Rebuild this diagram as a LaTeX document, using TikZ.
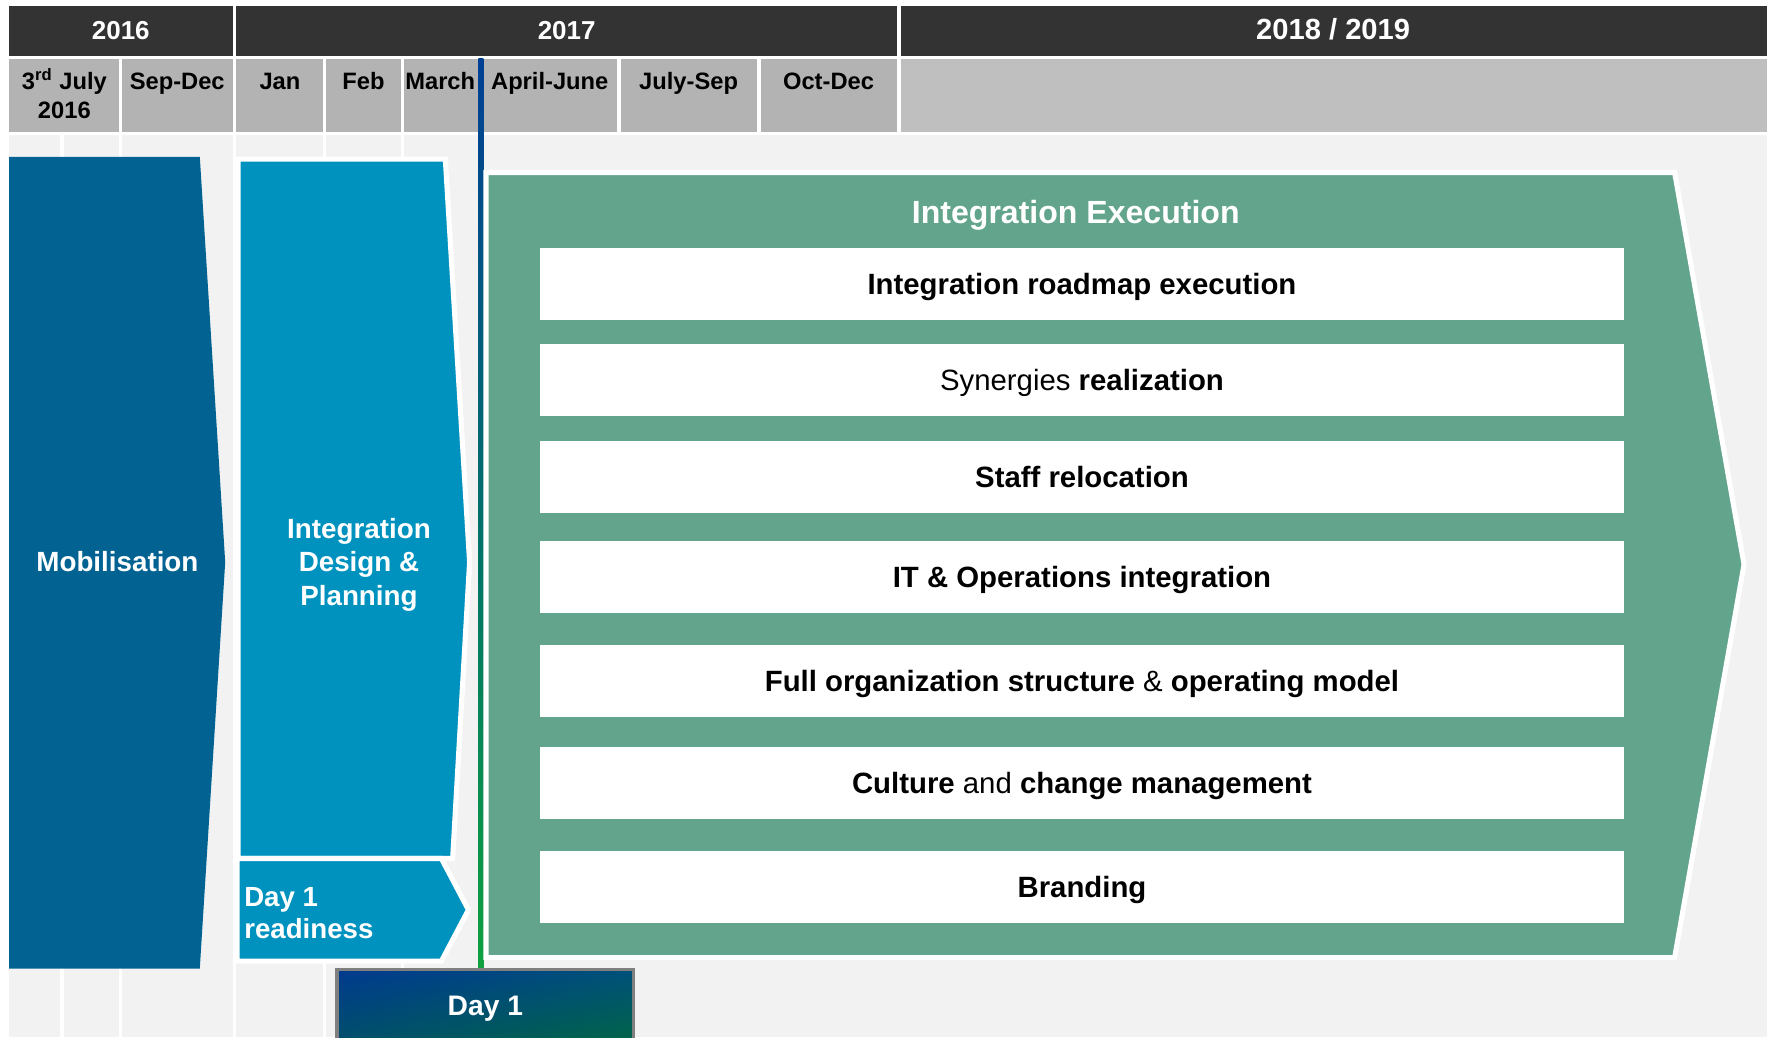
\documentclass[tikz,border=0pt]{standalone}
\usepackage{fontspec}
\setmainfont{Liberation Sans}
\usetikzlibrary{shadings}
\definecolor{hdrdark}{HTML}{333333}
\definecolor{hdrgray}{HTML}{B3B3B3}
\definecolor{hdrlight}{HTML}{BFBFBF}
\definecolor{bggray}{HTML}{F2F2F2}
\definecolor{mobblue}{HTML}{026392}
\definecolor{designblue}{HTML}{0092BF}
\definecolor{execgreen}{HTML}{62A58C}
\definecolor{linetop}{HTML}{003F94}
\definecolor{linemid}{HTML}{006F6C}
\definecolor{linebot}{HTML}{10A040}
\definecolor{dayUL}{HTML}{003A8E}
\definecolor{dayUR}{HTML}{00507A}
\definecolor{dayLL}{HTML}{005562}
\definecolor{dayLR}{HTML}{006A3A}
\definecolor{dayborder}{HTML}{7F7F7F}
\begin{document}
\begin{tikzpicture}[x=0.5pt,y=-0.5pt,
  lbl/.style={inner sep=0pt, text height=0.72em, text depth=0pt, align=center},
  yearlbl/.style={lbl, text=white, font=\bfseries\fontsize{11.5}{13.8}\selectfont},
  monthlbl/.style={lbl, text=black, font=\bfseries\fontsize{10.5}{12.5}\selectfont},
  phaselbl/.style={lbl, text=white, font=\bfseries\fontsize{12.3}{15}\selectfont},
  taskbox/.style={fill=white, minimum width=480.5pt, minimum height=31.75pt,
    inner sep=0pt, text height=0.95em, text depth=0pt,
    font=\fontsize{13}{15.6}\selectfont},
  phaseshape/.style={draw=white, line width=2.25pt, line join=miter},
  gridline/.style={draw=white, line width=1.5pt},
]
\useasboundingbox (0,0) rectangle (1568,919);
\clip (0,0) rectangle (1568,919);
\fill[white] (0,0) rectangle (1568,919);

% year row
\fill[hdrdark] (8,5) rectangle (206,50);
\fill[hdrdark] (209,5) rectangle (795,50);
\fill[hdrdark] (798,5) rectangle (1565,50);
\node[yearlbl] (y2016) at (107,27.5) {2016};
\node[yearlbl] (y2017) at (502,27.5) {2017};
\node[yearlbl, font=\bfseries\fontsize{12.9}{15}\selectfont] (y2018) at (1181,28) {2018 / 2019};

% period row (multi-line labels are placed by their last line)
\fill[hdrgray] (8,52) rectangle (105,117);
\fill[hdrgray] (108,52) rectangle (206,117);
\fill[hdrgray] (209,52) rectangle (286,117);
\fill[hdrgray] (289,52) rectangle (355,117);
\fill[hdrgray] (358,52) rectangle (424,117);
\fill[hdrgray] (427,52) rectangle (547,117);
\fill[hdrgray] (550,52) rectangle (671,117);
\fill[hdrgray] (674,52) rectangle (795,117);
\fill[hdrlight] (798,52) rectangle (1565,117);
\node[monthlbl] (pjul) at (57,97.5) {3\textsuperscript{rd} July\\2016};
\node[monthlbl] (psep) at (157,72.5) {Sep-Dec};
\node[monthlbl] (pjan) at (248,72.5) {Jan};
\node[monthlbl] (pfeb) at (322,72.5) {Feb};
\node[monthlbl] (pmar) at (390,72.5) {March};
\node[monthlbl] (papr) at (487,72.5) {April-June};
\node[monthlbl] (pjsp) at (610,72.5) {July-Sep};
\node[monthlbl] (poct) at (734,72.5) {Oct-Dec};

% timeline area with column guides
\fill[bggray] (8,120) rectangle (1565,919);
\foreach \gx in {55,106.5,207.5,287.5,356.5}
  \draw[gridline] (\gx,120) -- (\gx,919);

% phase 1
\fill[mobblue] (8,139) -- (177,139) -- (199.5,498) -- (177,858) -- (8,858) -- cycle;
\node[phaselbl] (mob) at (104,499) {Mobilisation};

% phase 2
\filldraw[phaseshape, fill=designblue] (211,141) -- (394.5,141) -- (416,498) -- (401,760.5) -- (211,760.5) -- cycle;
\node[phaselbl] (design) at (318,529.5) {Integration\\Design \&\\Planning};
\filldraw[phaseshape, fill=designblue] (210,760.5) -- (391,760.5) -- (415,806) -- (391,851.5) -- (210,851.5) -- cycle;
\node[phaselbl, anchor=west, align=left, font=\bfseries\fontsize{12.25}{14}\selectfont] (ready) at (216,824) {Day 1\\readiness};

% milestone line
\shade[top color=linetop, bottom color=linebot, middle color=linemid] (423.8,52) rectangle (428.2,858);

% phase 3
\filldraw[phaseshape, fill=execgreen] (430.5,152.8) -- (1483.5,152.8) -- (1545,500) -- (1483.5,848.3) -- (430.5,848.3) -- cycle;
\node[lbl, text=white, font=\bfseries\fontsize{14.2}{17}\selectfont] (exec) at (953,190.5) {Integration Execution};
\node[taskbox] (t1) at (958.5,251.5) {\textbf{Integration roadmap execution}};
\node[taskbox] (t2) at (958.5,336.5) {Synergies \textbf{realization}};
\node[taskbox] (t3) at (958.5,422.5) {\textbf{Staff relocation}};
\node[taskbox] (t4) at (958.5,511) {\textbf{IT \& Operations integration}};
\node[taskbox] (t5) at (958.5,603) {\textbf{Full organization structure} \& \textbf{operating model}};
\node[taskbox] (t6) at (958.5,693.5) {\textbf{Culture} and \textbf{change management}};
\node[taskbox] (t7) at (958.5,785.5) {\textbf{Branding}};

% day 1 milestone
\shade[upper left=dayUL, upper right=dayUR, lower left=dayLL, lower right=dayLR] (298.5,858.5) rectangle (561.5,940);
\draw[draw=dayborder, line width=1.4pt] (298.5,858.5) rectangle (561.5,940);
\node[phaselbl, font=\bfseries\fontsize{12.5}{15}\selectfont] (day1) at (430,892.5) {Day 1};
\end{tikzpicture}
\end{document}
